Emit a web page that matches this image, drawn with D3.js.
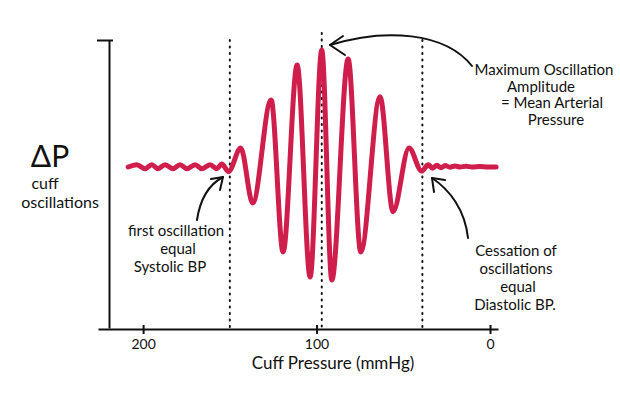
<!DOCTYPE html>
<html>
<head>
<meta charset="utf-8">
<script src="https://cdn.jsdelivr.net/npm/d3@7"></script>
<style>
  body { margin: 0; background: #fff; }
  text { font-family: Lato, "Open Sans", sans-serif; fill: #111; }
  .axis path, .axis line { stroke: #111; stroke-width: 2; }
  .axis text { font-size: 14px; font-family: Lato, sans-serif; }
</style>
</head>
<body>
<div id="chart"></div>
<script>
// ---------------------------------------------------------------------------
// DATA - cuff pressure (mmHg) vs cuff oscillation (relative amplitude)
// ---------------------------------------------------------------------------
const pressure = [
  208.6, 203.6, 198.8, 195.0, 191.4, 187.3, 182.7, 178.7, 174.8, 170.0,
  166.2, 161.4, 157.5, 154.6, 150.8,
  143.7, 136.8, 126.2, 119.3, 111.2, 103.7, 97.0, 91.2, 81.8, 74.5,
  63.4, 55.9, 46.7, 39.4,
  35.6, 33.1, 30.7, 28.2, 25.9, 23.1, 20.2, 17.3, 13.8, 10.4, 5.8, 1.2, -3.5
];
const oscillation = [
  0.0, 0.02, -0.015, 0.02, -0.015, 0.02, -0.015, 0.02, -0.015, 0.02,
  -0.015, 0.02, -0.015, 0.025, -0.04,
  0.162, -0.308, 0.573, -0.726, 0.872, -0.94, 1.0, -0.966, 0.923, -0.726,
  0.601, -0.382, 0.162, -0.035,
  0.018, -0.01, 0.014, -0.006, 0.012, -0.002, 0.008, 0.0, 0.006, 0.0, 0.003, 0.0, 0.0
];
const pressureTicks = [200, 100, 0];
// systolic, mean arterial, diastolic
const markerPressure = [150, 97, 39];

const svg = d3.select('#chart').append('svg')
  .attr('width', 620)
  .attr('height', 399);

const x = d3.scaleLinear().domain([226, -4.6]).range([98, 498]);
const y = d3.scaleLinear().domain([-1.376, 1.085]).range([328, 40]);
const red = '#cf1d4c';

// ---------------------------------------------------------------------------
// AXES
// ---------------------------------------------------------------------------
const xAxis = svg.append('g')
  .attr('class', 'axis')
  .attr('transform', `translate(0, ${y(-1.376) + 1})`)
  .call(d3.axisBottom(x).tickValues(pressureTicks).tickSize(5).tickSizeOuter(0).tickPadding(5));
xAxis.selectAll('.tick line').attr('y1', -4);

const yAxis = svg.append('g')
  .attr('class', 'axis')
  .attr('transform', 'translate(109, 0)')
  .call(d3.axisLeft(y).tickValues([1.085]).tickSize(12).tickSizeOuter(0).tickFormat(''));
yAxis.select('.tick line').attr('x2', 4).attr('x1', -12);

// ---------------------------------------------------------------------------
// DOTTED MARKERS
// ---------------------------------------------------------------------------
svg.selectAll('.marker')
  .data(markerPressure)
  .enter().append('line')
    .attr('class', 'marker')
    .attr('x1', d => x(d))
    .attr('x2', d => x(d))
    .attr('y1', (d, i) => (i === 1 ? 33 : 40))
    .attr('y2', 328)
    .attr('stroke', '#111')
    .attr('stroke-width', 2)
    .attr('stroke-linecap', 'round')
    .attr('stroke-dasharray', '1,5.5');

// ---------------------------------------------------------------------------
// OSCILLATION TRACE
// ---------------------------------------------------------------------------
const points = pressure.map((p, i) => [p, oscillation[i]]);
const line = d3.line()
  .x(d => x(d[0]))
  .y(d => y(d[1]))
  .curve(d3.curveMonotoneX);

svg.append('path')
  .datum(points)
  .attr('d', line)
  .attr('fill', 'none')
  .attr('stroke', red)
  .attr('stroke-width', 5)
  .attr('stroke-linejoin', 'round')
  .attr('stroke-linecap', 'round');

// ---------------------------------------------------------------------------
// LABELS
// ---------------------------------------------------------------------------
svg.append('text').attr('x', 50).attr('y', 167).attr('text-anchor', 'middle')
  .style('font-size', '30px').text('ΔP');
svg.append('text').attr('x', 45).attr('y', 189).attr('text-anchor', 'middle')
  .style('font-size', '16px').text('cuff');
svg.append('text').attr('x', 60).attr('y', 208).attr('text-anchor', 'middle')
  .style('font-size', '16px').text('oscillations');

svg.append('text').attr('x', 333).attr('y', 369).attr('text-anchor', 'middle')
  .style('font-size', '17px').text('Cuff Pressure (mmHg)');

function block(lines, cx, y0, dy) {
  svg.append('g').selectAll('text')
    .data(lines)
    .enter().append('text')
      .attr('x', (d, i) => cx[i])
      .attr('y', (d, i) => y0 + i * dy)
      .attr('text-anchor', 'middle')
      .style('font-size', '15px')
      .text(d => d);
}
block(['first oscillation', 'equal', 'Systolic BP'], [176, 178, 170], 236, 18);
block(['Maximum Oscillation', 'Amplitude', '= Mean Arterial', 'Pressure'], [544, 541, 552, 556], 75, 16.5);
block(['Cessation of', 'oscillations', 'equal', 'Diastolic BP.'], [516, 516, 518, 515], 256, 18);

// ---------------------------------------------------------------------------
// ARROWS
// ---------------------------------------------------------------------------
function arrow(d, tip, a1, a2) {
  svg.append('path').attr('d', d)
    .attr('fill', 'none').attr('stroke', '#111').attr('stroke-width', 2).attr('stroke-linecap', 'round');
  svg.append('path').attr('d', `M${a1[0]},${a1[1]} L${tip[0]},${tip[1]} L${a2[0]},${a2[1]}`)
    .attr('fill', 'none').attr('stroke', '#111').attr('stroke-width', 2)
    .attr('stroke-linecap', 'round').attr('stroke-linejoin', 'round');
}
arrow('M472,66 C445,32 385,28 330,45', [330, 45], [343, 36], [345, 55]);
arrow('M197,220 C200,200 208,185 223,177', [223, 177], [211, 179], [220, 190]);
arrow('M468,238 C465,210 450,190 432,178', [432, 178], [434, 192], [445, 180]);
</script>
</body>
</html>
